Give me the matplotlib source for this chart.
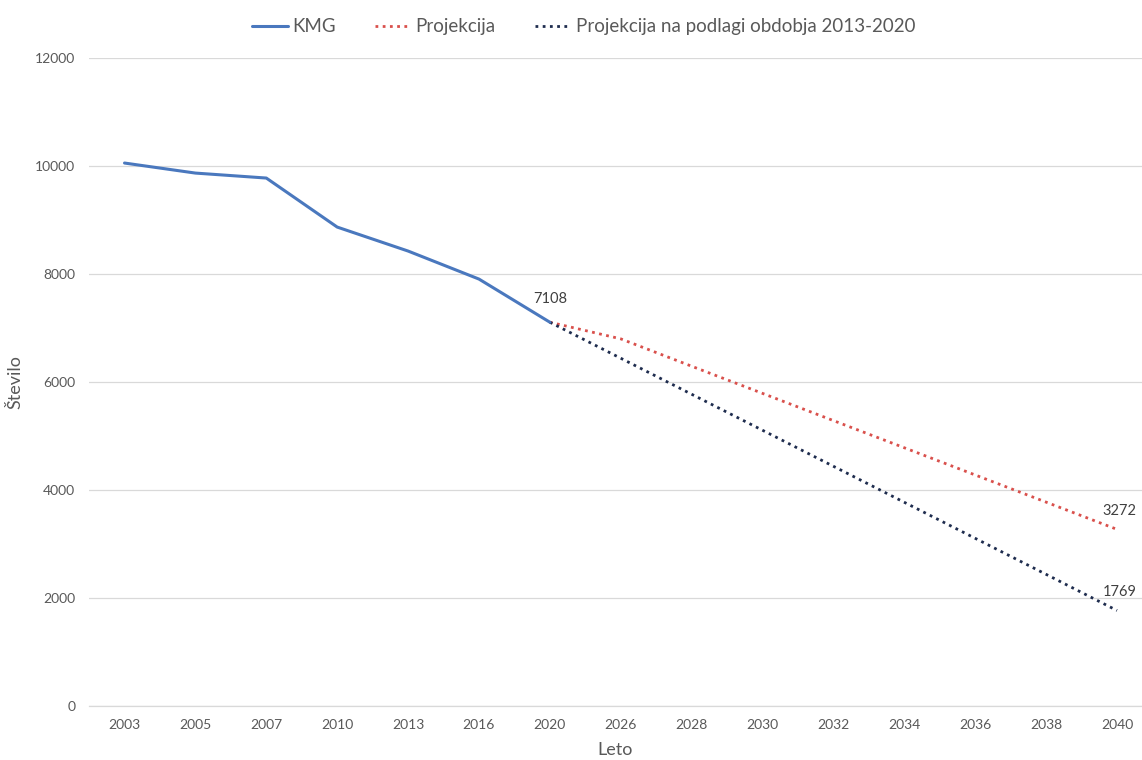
import matplotlib
matplotlib.use("Agg")
import matplotlib.pyplot as plt

years = ["2003", "2005", "2007", "2010", "2013", "2016", "2020", "2026", "2028",
         "2030", "2032", "2034", "2036", "2038", "2040"]
kmg = [10056, 9870, 9778, 8870, 8426, 7907, 7108]
projekcija = [7108, 6800, 6293, 5790, 5286, 4783, 4279, 3776, 3272]
projekcija_2013 = [7108, 6441, 5774, 5107, 4440, 3773, 3106, 2439, 1769]

plt.rcParams['font.family'] = ['Lato', 'DejaVu Sans']
grey = '#595959'

fig = plt.figure(figsize=(11.42, 7.6), dpi=100)
ax = fig.add_axes([0.078, 0.071, 0.922, 0.8526])

x_all = list(range(len(years)))
x_kmg = x_all[:len(kmg)]
x_proj = x_all[len(kmg) - 1:]

ax.plot(x_kmg, kmg, color='#4A78BE', lw=2.2, label='KMG', solid_capstyle='round', zorder=3)
ax.plot(x_proj, projekcija, color='#D9504C', lw=2.0, ls=(0, (1, 1.6)), label='Projekcija', zorder=2)
ax.plot(x_proj, projekcija_2013, color='#1E2C4E', lw=2.0, ls=(0, (1, 1.6)),
        label='Projekcija na podlagi obdobja 2013-2020', zorder=2)

ax.annotate(f"{kmg[-1]}", (x_kmg[-1], kmg[-1]), xytext=(0, 12), textcoords='offset points',
            ha='center', va='bottom', fontsize=10.5, color='#404040')
ax.annotate(f"{projekcija[-1]}", (x_proj[-1], projekcija[-1]), xytext=(2, 8), textcoords='offset points',
            ha='center', va='bottom', fontsize=10.5, color='#404040')
ax.annotate(f"{projekcija_2013[-1]}", (x_proj[-1], projekcija_2013[-1]), xytext=(2, 8), textcoords='offset points',
            ha='center', va='bottom', fontsize=10.5, color='#404040')

ax.set_xlim(-0.5, 14 + 25 / 70.9)
ax.set_ylim(0, 12000)
ax.set_yticks(range(0, 12001, 2000))
ax.set_xticks(x_all)
ax.set_xticklabels(years)
ax.tick_params(axis='both', length=0, labelsize=10, colors=grey)
ax.tick_params(axis='y', pad=10)
ax.tick_params(axis='x', pad=9)
ax.grid(axis='y', color='#D9D9D9', lw=0.9)
ax.set_axisbelow(True)
for s in ['top', 'right', 'left']:
    ax.spines[s].set_visible(False)
ax.spines['bottom'].set_color('#D9D9D9')
ax.spines['bottom'].set_linewidth(0.9)

ax.set_xlabel('Leto', fontsize=13, color=grey, labelpad=8)
ax.set_ylabel('Število', fontsize=13, color=grey, labelpad=8)

leg = fig.legend(loc='center', bbox_to_anchor=(0.511, 0.965), ncol=3, frameon=False,
                 fontsize=13.5, handlelength=1.9, columnspacing=2.1, handletextpad=0.25)
for t in leg.get_texts():
    t.set_color(grey)

fig.savefig('out.png', dpi=100)
